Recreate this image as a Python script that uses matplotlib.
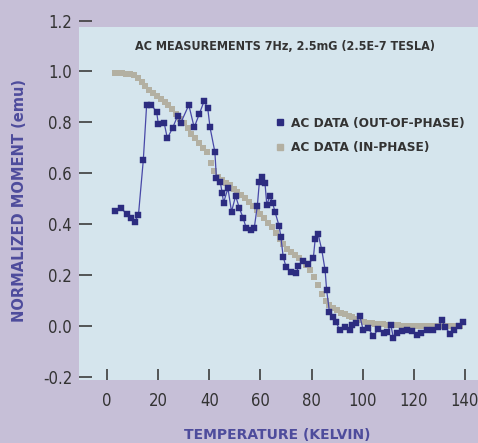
import matplotlib
matplotlib.use("Agg")
import matplotlib.pyplot as plt
from matplotlib.lines import Line2D
from matplotlib.patches import Rectangle

# ---------------- data ----------------
title = "AC MEASUREMENTS 7Hz, 2.5mG (2.5E-7 TESLA)"
xlabel = "TEMPERATURE (KELVIN)"
ylabel = "NORMALIZED MOMENT (emu)"
label_out = "AC DATA (OUT-OF-PHASE)"
label_in = "AC DATA (IN-PHASE)"
xticks = [0, 20, 40, 60, 80, 100, 120, 140]
yticks = [-0.2, 0.0, 0.2, 0.4, 0.6, 0.8, 1.0, 1.2]

# out-of-phase (blue) points
out_T = [3.1, 5.3, 7.7, 9.5, 10.8, 12.3, 14.2, 15.5, 17.3, 19.4, 20.1, 22.4, 23.6,
         25.7, 27.6, 28.9, 32.0, 34.1, 36.1, 38.0, 39.4, 40.3, 42.2, 42.8, 44.3,
         45.0, 45.6, 47.3, 48.7, 50.3, 51.8, 53.3, 54.4, 56.2, 57.6, 58.8, 59.6,
         60.5, 61.8, 62.5, 63.7, 64.8, 65.7, 67.3, 68.0, 68.9, 70.0, 71.8, 74.1,
         74.8, 76.8, 78.7, 80.7, 81.4, 82.6, 84.0, 85.3, 85.9, 87.0, 88.4, 89.6,
         91.0, 93.0, 95.0, 95.7, 97.4, 98.9, 100.2, 102.2, 104.1, 106.1, 108.2,
         109.6, 111.0, 112.0, 113.4, 115.4, 117.4, 119.3, 121.1, 123.0, 125.3,
         127.6, 129.5, 131.0, 132.3, 134.2, 135.9, 137.6, 139.3]
out_v = [0.453, 0.465, 0.440, 0.425, 0.410, 0.436, 0.652, 0.868, 0.868, 0.842, 0.792,
         0.796, 0.737, 0.779, 0.825, 0.799, 0.868, 0.780, 0.833, 0.884, 0.855, 0.780,
         0.683, 0.580, 0.567, 0.524, 0.485, 0.541, 0.449, 0.511, 0.462, 0.423, 0.386,
         0.377, 0.386, 0.472, 0.567, 0.584, 0.561, 0.475, 0.511, 0.482, 0.449, 0.393,
         0.351, 0.272, 0.233, 0.213, 0.207, 0.236, 0.257, 0.244, 0.266, 0.340, 0.360,
         0.299, 0.220, 0.141, 0.056, 0.036, 0.015, -0.015, -0.002, -0.016, 0.004,
         0.013, 0.039, -0.016, -0.009, -0.039, -0.013, -0.026, -0.022, 0.004, -0.046,
         -0.027, -0.020, -0.016, -0.020, -0.037, -0.027, -0.015, -0.014, -0.005,
         0.022, -0.005, -0.030, -0.017, 0.000, 0.015]

# in-phase (gray) points
in_T = [3.0, 4.5, 6.0, 7.5, 9.0, 10.5, 12.0, 13.5, 15.0, 16.5, 18.0, 19.5, 21.0, 22.5,
        24.0, 25.5, 27.0, 28.5, 30.0, 31.5, 33.0, 34.5, 36.0, 37.5, 39.0, 40.5, 42.0,
        43.5, 45.0, 46.5, 48.0, 49.5, 51.0, 52.5, 54.0, 55.5, 57.0, 58.5, 60.0, 61.5,
        63.0, 64.5, 66.0, 67.5, 69.0, 70.5, 72.0, 73.5, 75.0, 76.5, 78.0, 79.5, 81.0,
        82.5, 84.0, 85.5, 87.0, 88.5, 90.0, 91.5, 93.0, 94.5, 96.0, 97.5, 99.0, 100.5,
        102.0, 103.5, 105.0, 106.5, 108.0, 109.5, 111.0, 112.5, 114.0, 115.5, 117.0,
        118.5, 120.0, 121.5, 123.0, 124.5, 126.0, 127.5, 129.0, 130.5, 132.0, 133.5,
        135.0, 136.5, 138.0]
in_v = [0.995, 0.994, 0.992, 0.990, 0.990, 0.987, 0.976, 0.958, 0.943, 0.928, 0.915,
        0.905, 0.893, 0.881, 0.868, 0.853, 0.832, 0.815, 0.797, 0.777, 0.756, 0.738,
        0.720, 0.700, 0.682, 0.640, 0.608, 0.587, 0.575, 0.563, 0.552, 0.540, 0.526,
        0.516, 0.501, 0.486, 0.471, 0.456, 0.441, 0.423, 0.404, 0.387, 0.364, 0.342,
        0.322, 0.303, 0.290, 0.279, 0.268, 0.255, 0.240, 0.220, 0.193, 0.160, 0.126,
        0.100, 0.083, 0.070, 0.061, 0.053, 0.046, 0.040, 0.034, 0.028, 0.022, 0.016,
        0.013, 0.011, 0.009, 0.008, 0.006, 0.005, 0.004, 0.003, 0.003, 0.002, 0.002,
        0.001, 0.001, 0.001, 0.000, 0.000, 0.000, 0.000, 0.000, 0.000, 0.000, 0.000,
        0.000, 0.000, 0.000]

# ---------------- style ----------------
FIG_BG = "#c6bfd7"
PLOT_BG = "#d5e5ed"
BLUE = "#2c2c80"
BLUE_LINE = "#4848a8"
GRAY = "#b3b0a2"
TXT = "#333333"
LAB = "#4e4c9c"
FAM = ["DejaVu Sans"]

plt.rcParams["font.family"] = FAM

fig = plt.figure(figsize=(4.78, 4.43), dpi=100, facecolor=FIG_BG)
ax = fig.add_axes([79 / 478, (443 - 380) / 443, 399 / 478, 360 / 443])
ax.set_facecolor("none")
xmin, xmax = -10.95, 145.1
ymin, ymax = -0.212, 1.202
ax.set_xlim(xmin, xmax)
ax.set_ylim(ymin, ymax)
for s in ax.spines.values():
    s.set_visible(False)

ax.add_patch(Rectangle((xmin, ymin), xmax - xmin, 1.175 - ymin,
                       facecolor=PLOT_BG, edgecolor="none", zorder=0))

ax.plot(in_T, in_v, linestyle="none", marker="s", markersize=3.8,
        color=GRAY, markeredgewidth=0, zorder=2)
ax.plot(out_T, out_v, linestyle="-", linewidth=0.9, color=BLUE_LINE,
        marker="s", markersize=3.8, markerfacecolor=BLUE, markeredgecolor=BLUE,
        markeredgewidth=0.3, zorder=3)

ax.set_xticks(xticks)
ax.set_xticklabels([str(t) for t in xticks])
ax.set_yticks(yticks)
ax.set_yticklabels([f"{t:.1f}" for t in yticks])
ax.tick_params(axis="y", direction="in", length=9, width=1.2, color="#3c3c3c",
               pad=5, labelsize=12, labelcolor=TXT)
ax.tick_params(axis="x", direction="in", length=8, width=1.2, color="#3c3c3c",
               pad=9, labelsize=12, labelcolor=TXT)
for lab in ax.get_xticklabels() + ax.get_yticklabels():
    lab.set_fontstretch("condensed")

ax.set_xlabel(xlabel, fontsize=10, fontweight="bold", color=LAB)
ax.xaxis.set_label_coords((277 - 79) / 399, (380 - 435) / 360)
ax.xaxis.label.set_va("center")
ax.set_ylabel(ylabel, fontsize=10.5, fontweight="bold", color=LAB)
ax.yaxis.set_label_coords((20 - 79) / 399, 0.5)
ax.yaxis.label.set_va("center")

fig.text(285 / 478, 1 - 47 / 443, title, ha="center", va="center",
         fontsize=9, fontweight="bold", fontstretch="condensed", color=TXT)

handles = [Line2D([], [], linestyle="none", marker="s", markersize=4,
                  color=BLUE),
           Line2D([], [], linestyle="none", marker="s", markersize=4,
                  color=GRAY)]
ax.legend(handles, [label_out, label_in], loc="upper left",
          bbox_to_anchor=((276 - 79) / 399, (380 - 117) / 360),
          frameon=False, handlelength=0.6, handletextpad=0.5,
          labelspacing=0.85, borderpad=0, borderaxespad=0,
          prop={"family": FAM, "size": 9.7, "weight": "bold",
                "stretch": "condensed"},
          labelcolor=TXT)

fig.savefig("out.png", dpi=100, facecolor=FIG_BG)
